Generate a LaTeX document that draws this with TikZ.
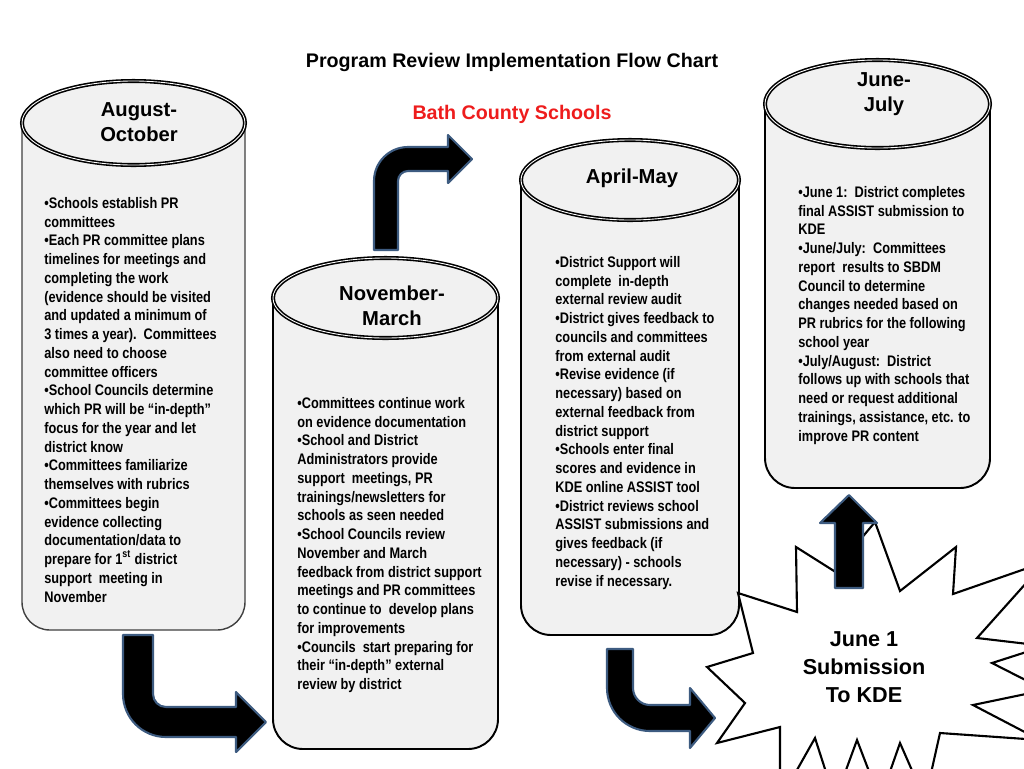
\documentclass[tikz,border=0pt]{standalone}
\usepackage{fontspec}
\setmainfont{Liberation Sans}
\newfontfamily\narrowsans[FakeStretch=0.835]{Liberation Sans}
\definecolor{boxgray}{HTML}{F1F1F1}
\definecolor{arrowrim}{HTML}{3D5B80}
\definecolor{bathred}{HTML}{EE1C1C}

\begin{document}
\begin{tikzpicture}[x=0.02cm, y=-0.02cm,
  body/.style={fill=boxgray, draw=black, line width=1.1pt},
  lid/.style={fill=boxgray, draw=black, double=white, double distance=0.5pt, line width=0.9pt},
  bent/.style={fill=black, draw=arrowrim, line width=1.2pt, line join=round},
  head/.style={font=\bfseries\fontsize{11.5}{14.2}\selectfont, align=center},
  notes/.style={font=\narrowsans\bfseries\fontsize{8.7}{10.67}\selectfont, align=left, anchor=north west, inner sep=0pt}]
\useasboundingbox (0,0) rectangle (1024,768);
\clip (0,0) rectangle (1024,768);
\fill[white] (0,0) rectangle (1024,768);

% cans
\path[body, draw=darkgray, line width=0.8pt] (22,123) -- (22,602) arc[start angle=180, end angle=90, radius=28] -- (217,630) arc[start angle=90, end angle=0, radius=28] -- (245,123) -- cycle;
\path[lid] (133.5,123) ellipse[x radius=111.5, y radius=42];

\path[body] (273,298) -- (273,719) arc[start angle=180, end angle=90, radius=30] -- (468,749) arc[start angle=90, end angle=0, radius=30] -- (498,298) -- cycle;
\path[lid] (385.5,298) ellipse[x radius=112.5, y radius=40];

\path[body] (521,180) -- (521,605) arc[start angle=180, end angle=90, radius=30] -- (709,635) arc[start angle=90, end angle=0, radius=30] -- (739,180) -- cycle;
\path[lid] (630,180) ellipse[x radius=109, y radius=40];

\path[body] (765,104) -- (765,458) arc[start angle=180, end angle=90, radius=30] -- (960,488) arc[start angle=90, end angle=0, radius=30] -- (990,104) -- cycle;
\path[lid] (877.5,104) ellipse[x radius=112.5, y radius=44];

% explosion
\filldraw[fill=white, draw=black, line width=1.2pt, line join=miter]
  (738,593) -- (797,612) -- (796,547) -- (834,571) -- (875,522) -- (900,591)
  -- (956,547) -- (953,594) -- (1045,562) -- (977,638) -- (1045,646) -- (992,663)
  -- (1045,690) -- (973,705) -- (1040,740) -- (940,733) -- (925,800) -- (900,743)
  -- (880,800) -- (857,740) -- (835,800) -- (815,738) -- (780,800) -- (780,727)
  -- (717,743) -- (745,703) -- (707,667) -- (753,653) -- cycle;

% block arrows
\path[bent] (123,635) -- (123,694) arc[start angle=180, end angle=90, radius=43] -- (236,737) -- (236,752) -- (266,722) -- (236,692) -- (236,707) -- (166,707) arc[start angle=90, end angle=180, radius=13] -- (153,635) -- cycle;
\path[bent] (374,250) -- (374,181) arc[start angle=180, end angle=270, radius=34] -- (448,147) -- (448,135) -- (472,159) -- (448,183) -- (448,171) -- (408,171) arc[start angle=270, end angle=180, radius=10] -- (398,250) -- cycle;
\path[bent] (607,649) -- (607,688) arc[start angle=180, end angle=90, radius=43] -- (690,731) -- (690,748) -- (715,718) -- (690,688) -- (690,705) -- (650,705) arc[start angle=90, end angle=180, radius=17] -- (633,649) -- cycle;
\path[bent] (835,588) -- (835,523) -- (820,523) -- (849,495) -- (877,523) -- (863,523) -- (863,588) -- cycle;

% titles
\node[font=\bfseries\fontsize{11.2}{13}\selectfont] (title) at (512,62) {Program Review Implementation Flow Chart};
\node[font=\bfseries\fontsize{11.2}{13}\selectfont, text=bathred] (district) at (512,114) {Bath County Schools};

\node[head] (aug) at (139,122) {August-\\October};
\node[head] (nov) at (392,306) {November-\\March};
\node[head] (apr) at (632,178) {April-May};
\node[head] (jun) at (884,94) {June-\\July};

\node[font=\bfseries\fontsize{12.3}{15.8}\selectfont, align=center] (kde) at (864,667) {June 1\\Submission\\To KDE};

\node[notes] (augtext) at (44,197) {•Schools establish PR\\
committees\\
•Each PR committee plans\\
timelines for meetings and\\
completing the work\\
(evidence should be visited\\
and updated a minimum of\\
3 times a year).\ \ Committees\\
also need to choose\\
committee officers\\
•School Councils determine\\
which PR will be “in-depth”\\
focus for the year and let\\
district know\\
•Committees familiarize\\
themselves with rubrics\\
•Committees begin\\
evidence collecting\\
documentation/data to\\
prepare for 1\textsuperscript{st} district\\
support\ \ meeting in\\
November};

\node[notes] (novtext) at (297,397) {•Committees continue work\\
on evidence documentation\\
•School and District\\
Administrators provide\\
support\ \ meetings, PR\\
trainings/newsletters for\\
schools as seen needed\\
•School Councils review\\
November and March\\
feedback from district support\\
meetings and PR committees\\
to continue to\ \ develop plans\\
for improvements\\
•Councils\ \ start preparing for\\
their “in-depth” external\\
review by district};

\node[notes] (aprtext) at (555,256) {•District Support will\\
complete\ \ in-depth\\
external review audit\\
•District gives feedback to\\
councils and committees\\
from external audit\\
•Revise evidence (if\\
necessary) based on\\
external feedback from\\
district support\\
•Schools enter final\\
scores and evidence in\\
KDE online ASSIST tool\\
•District reviews school\\
ASSIST submissions and\\
gives feedback (if\\
necessary) - schools\\
revise if necessary.};

\node[notes] (juntext) at (798,186) {•June 1:\ \ District completes\\
final ASSIST submission to\\
KDE\\
•June/July:\ \ Committees\\
report\ \ results to SBDM\\
Council to determine\\
changes needed based on\\
PR rubrics for the following\\
school year\\
•July/August:\ \ District\\
follows up with schools that\\
need or request additional\\
trainings, assistance, etc. to\\
improve PR content};
\end{tikzpicture}
\end{document}
